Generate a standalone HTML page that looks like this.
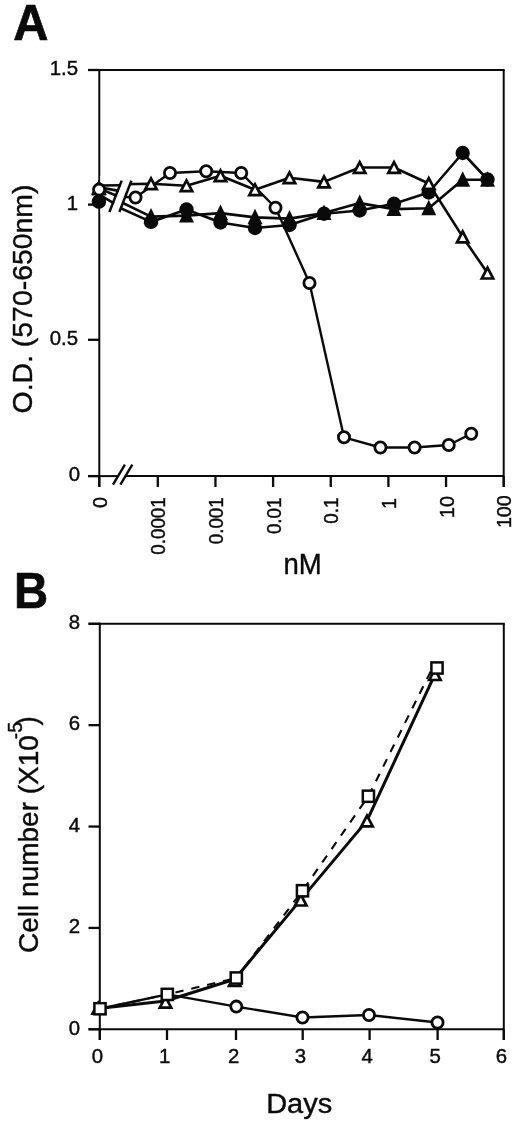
<!DOCTYPE html>
<html lang="en">
<head>
<meta charset="utf-8">
<title>Figure</title>
<style>
html,body{margin:0;padding:0;background:#fff;}
body{width:520px;height:1125px;overflow:hidden;}
svg{display:block;}
svg text{font-family:"Liberation Sans", Arial, Helvetica, sans-serif;fill:#0a0a0a;}
</style>
</head>
<body>
<svg width="520" height="1125" viewBox="0 0 520 1125">
<rect width="520" height="1125" fill="#fff"/>
<line x1="99.30" y1="69.00" x2="99.30" y2="487.00" stroke="#0a0a0a" stroke-width="2.0"/>
<line x1="88.00" y1="70.00" x2="504.70" y2="70.00" stroke="#0a0a0a" stroke-width="2.0"/>
<line x1="503.70" y1="70.00" x2="503.70" y2="487.00" stroke="#0a0a0a" stroke-width="2.0"/>
<line x1="88.00" y1="476.10" x2="117.50" y2="476.10" stroke="#0a0a0a" stroke-width="2.0"/>
<line x1="125.50" y1="476.10" x2="503.70" y2="476.10" stroke="#0a0a0a" stroke-width="2.0"/>
<line x1="124.90" y1="464.60" x2="113.00" y2="484.60" stroke="#0a0a0a" stroke-width="2.4"/>
<line x1="132.30" y1="464.60" x2="120.40" y2="484.60" stroke="#0a0a0a" stroke-width="2.4"/>
<line x1="88.00" y1="204.60" x2="99.30" y2="204.60" stroke="#0a0a0a" stroke-width="2.3"/>
<line x1="88.00" y1="339.80" x2="99.30" y2="339.80" stroke="#0a0a0a" stroke-width="2.3"/>
<line x1="88.00" y1="70.00" x2="99.30" y2="70.00" stroke="#0a0a0a" stroke-width="2.3"/>
<line x1="88.00" y1="476.10" x2="99.30" y2="476.10" stroke="#0a0a0a" stroke-width="2.3"/>
<line x1="99.30" y1="476.10" x2="99.30" y2="487.00" stroke="#0a0a0a" stroke-width="2.3"/>
<line x1="503.70" y1="476.10" x2="503.70" y2="487.00" stroke="#0a0a0a" stroke-width="2.3"/>
<line x1="157.80" y1="476.10" x2="157.80" y2="487.00" stroke="#0a0a0a" stroke-width="2.3"/>
<line x1="215.45" y1="476.10" x2="215.45" y2="487.00" stroke="#0a0a0a" stroke-width="2.3"/>
<line x1="273.10" y1="476.10" x2="273.10" y2="487.00" stroke="#0a0a0a" stroke-width="2.3"/>
<line x1="330.75" y1="476.10" x2="330.75" y2="487.00" stroke="#0a0a0a" stroke-width="2.3"/>
<line x1="388.40" y1="476.10" x2="388.40" y2="487.00" stroke="#0a0a0a" stroke-width="2.3"/>
<line x1="446.05" y1="476.10" x2="446.05" y2="487.00" stroke="#0a0a0a" stroke-width="2.3"/>
<polyline points="99.20,191.50 151.00,216.60 186.50,215.60 220.50,213.10 255.00,217.35 289.50,218.60 324.00,213.10 359.70,203.10 394.00,209.10 428.75,208.30 462.70,179.80 487.50,179.80" fill="none" stroke="#0a0a0a" stroke-width="2.6" stroke-linejoin="round"/>
<polyline points="99.20,198.50 151.00,221.90 186.50,209.50 220.50,222.50 255.00,228.00 289.50,225.00 324.00,213.75 359.70,210.50 394.00,203.75 428.75,192.50 462.70,153.00 487.50,179.50" fill="none" stroke="#0a0a0a" stroke-width="2.6" stroke-linejoin="round"/>
<polyline points="99.20,184.60 151.00,183.80 186.50,185.70 220.50,175.70 255.00,189.70 289.50,177.70 324.00,181.90 359.70,167.50 394.00,167.50 428.75,183.50 462.70,236.90 487.50,273.10" fill="none" stroke="#0a0a0a" stroke-width="2.6" stroke-linejoin="round"/>
<polyline points="99.20,195.60 135.50,197.50 170.00,173.00 206.20,171.25 241.20,173.00 275.50,207.75 309.50,283.00 344.00,437.30 380.40,447.50 414.60,447.50 448.75,445.00 471.25,433.75" fill="none" stroke="#0a0a0a" stroke-width="2.4" stroke-linejoin="round"/>
<path d="M100.4 176 L133.3 176 L118.8 214 L100.4 214 Z" fill="#fff"/>
<line x1="99.20" y1="185.50" x2="121.00" y2="185.30" stroke="#0a0a0a" stroke-width="2.6"/>
<line x1="99.20" y1="187.20" x2="118.80" y2="190.90" stroke="#0a0a0a" stroke-width="2.6"/>
<line x1="99.20" y1="188.60" x2="116.80" y2="195.80" stroke="#0a0a0a" stroke-width="2.6"/>
<line x1="99.20" y1="194.60" x2="114.00" y2="203.40" stroke="#0a0a0a" stroke-width="2.6"/>
<line x1="121.70" y1="180.60" x2="109.40" y2="212.00" stroke="#0a0a0a" stroke-width="2.5"/>
<line x1="131.40" y1="180.60" x2="119.40" y2="212.00" stroke="#0a0a0a" stroke-width="2.5"/>
<path d="M98.90 180.00 L106.40 195.50 L91.40 195.50 Z" fill="#0a0a0a"/>
<path d="M151.00 208.00 L158.50 223.50 L143.50 223.50 Z" fill="#0a0a0a"/>
<path d="M186.50 207.00 L194.00 222.50 L179.00 222.50 Z" fill="#0a0a0a"/>
<path d="M220.50 204.50 L228.00 220.00 L213.00 220.00 Z" fill="#0a0a0a"/>
<path d="M255.00 208.75 L262.50 224.25 L247.50 224.25 Z" fill="#0a0a0a"/>
<path d="M289.50 210.00 L297.00 225.50 L282.00 225.50 Z" fill="#0a0a0a"/>
<path d="M324.00 204.50 L331.50 220.00 L316.50 220.00 Z" fill="#0a0a0a"/>
<path d="M359.70 194.50 L367.20 210.00 L352.20 210.00 Z" fill="#0a0a0a"/>
<path d="M394.00 200.50 L401.50 216.00 L386.50 216.00 Z" fill="#0a0a0a"/>
<path d="M428.75 199.70 L436.25 215.20 L421.25 215.20 Z" fill="#0a0a0a"/>
<path d="M462.70 171.20 L470.20 186.70 L455.20 186.70 Z" fill="#0a0a0a"/>
<path d="M487.50 171.20 L495.00 186.70 L480.00 186.70 Z" fill="#0a0a0a"/>
<circle cx="98.90" cy="201.70" r="7.2" fill="#0a0a0a"/>
<circle cx="151.00" cy="221.90" r="7.2" fill="#0a0a0a"/>
<circle cx="186.50" cy="209.50" r="7.2" fill="#0a0a0a"/>
<circle cx="220.50" cy="222.50" r="7.2" fill="#0a0a0a"/>
<circle cx="255.00" cy="228.00" r="7.2" fill="#0a0a0a"/>
<circle cx="289.50" cy="225.00" r="7.2" fill="#0a0a0a"/>
<circle cx="324.00" cy="213.75" r="7.2" fill="#0a0a0a"/>
<circle cx="359.70" cy="210.50" r="7.2" fill="#0a0a0a"/>
<circle cx="394.00" cy="203.75" r="7.2" fill="#0a0a0a"/>
<circle cx="428.75" cy="192.50" r="7.2" fill="#0a0a0a"/>
<circle cx="462.70" cy="153.00" r="7.2" fill="#0a0a0a"/>
<circle cx="487.50" cy="179.50" r="7.2" fill="#0a0a0a"/>
<path d="M98.90 182.60 L104.60 193.40 L93.20 193.40 Z" fill="#fff" stroke="#0a0a0a" stroke-width="2.7" stroke-linejoin="miter" stroke-miterlimit="10"/>
<path d="M151.00 178.40 L156.70 189.20 L145.30 189.20 Z" fill="#fff" stroke="#0a0a0a" stroke-width="2.7" stroke-linejoin="miter" stroke-miterlimit="10"/>
<path d="M186.50 180.30 L192.20 191.10 L180.80 191.10 Z" fill="#fff" stroke="#0a0a0a" stroke-width="2.7" stroke-linejoin="miter" stroke-miterlimit="10"/>
<path d="M220.50 170.30 L226.20 181.10 L214.80 181.10 Z" fill="#fff" stroke="#0a0a0a" stroke-width="2.7" stroke-linejoin="miter" stroke-miterlimit="10"/>
<path d="M255.00 184.30 L260.70 195.10 L249.30 195.10 Z" fill="#fff" stroke="#0a0a0a" stroke-width="2.7" stroke-linejoin="miter" stroke-miterlimit="10"/>
<path d="M289.50 172.30 L295.20 183.10 L283.80 183.10 Z" fill="#fff" stroke="#0a0a0a" stroke-width="2.7" stroke-linejoin="miter" stroke-miterlimit="10"/>
<path d="M324.00 176.50 L329.70 187.30 L318.30 187.30 Z" fill="#fff" stroke="#0a0a0a" stroke-width="2.7" stroke-linejoin="miter" stroke-miterlimit="10"/>
<path d="M359.70 162.10 L365.40 172.90 L354.00 172.90 Z" fill="#fff" stroke="#0a0a0a" stroke-width="2.7" stroke-linejoin="miter" stroke-miterlimit="10"/>
<path d="M394.00 162.10 L399.70 172.90 L388.30 172.90 Z" fill="#fff" stroke="#0a0a0a" stroke-width="2.7" stroke-linejoin="miter" stroke-miterlimit="10"/>
<path d="M428.75 178.10 L434.45 188.90 L423.05 188.90 Z" fill="#fff" stroke="#0a0a0a" stroke-width="2.7" stroke-linejoin="miter" stroke-miterlimit="10"/>
<path d="M462.70 231.50 L468.40 242.30 L457.00 242.30 Z" fill="#fff" stroke="#0a0a0a" stroke-width="2.7" stroke-linejoin="miter" stroke-miterlimit="10"/>
<path d="M487.50 267.70 L493.20 278.50 L481.80 278.50 Z" fill="#fff" stroke="#0a0a0a" stroke-width="2.7" stroke-linejoin="miter" stroke-miterlimit="10"/>
<circle cx="99.10" cy="189.60" r="5.6" fill="#fff" stroke="#0a0a0a" stroke-width="2.8"/>
<circle cx="135.50" cy="197.50" r="5.6" fill="#fff" stroke="#0a0a0a" stroke-width="2.8"/>
<circle cx="170.00" cy="173.00" r="5.6" fill="#fff" stroke="#0a0a0a" stroke-width="2.8"/>
<circle cx="206.20" cy="171.25" r="5.6" fill="#fff" stroke="#0a0a0a" stroke-width="2.8"/>
<circle cx="241.20" cy="173.00" r="5.6" fill="#fff" stroke="#0a0a0a" stroke-width="2.8"/>
<circle cx="275.50" cy="207.75" r="5.6" fill="#fff" stroke="#0a0a0a" stroke-width="2.8"/>
<circle cx="309.50" cy="283.00" r="5.6" fill="#fff" stroke="#0a0a0a" stroke-width="2.8"/>
<circle cx="344.00" cy="437.30" r="5.6" fill="#fff" stroke="#0a0a0a" stroke-width="2.8"/>
<circle cx="380.40" cy="447.50" r="5.6" fill="#fff" stroke="#0a0a0a" stroke-width="2.8"/>
<circle cx="414.60" cy="447.50" r="5.6" fill="#fff" stroke="#0a0a0a" stroke-width="2.8"/>
<circle cx="448.75" cy="445.00" r="5.6" fill="#fff" stroke="#0a0a0a" stroke-width="2.8"/>
<circle cx="471.25" cy="433.75" r="5.6" fill="#fff" stroke="#0a0a0a" stroke-width="2.8"/>
<text transform="translate(78.00 75.00) scale(1.04 1.0)" font-size="19.6" text-anchor="end" stroke="#0a0a0a" stroke-width="0.4">1.5</text>
<text transform="translate(78.00 209.60) scale(1.04 1.0)" font-size="19.6" text-anchor="end" stroke="#0a0a0a" stroke-width="0.4">1</text>
<text transform="translate(78.00 344.80) scale(1.04 1.0)" font-size="19.6" text-anchor="end" stroke="#0a0a0a" stroke-width="0.4">0.5</text>
<text transform="translate(80.00 481.10) scale(1.04 1.0)" font-size="19.6" text-anchor="end" stroke="#0a0a0a" stroke-width="0.4">0</text>
<text transform="translate(106.90 497.20) scale(1.03 1.0) rotate(-90)" font-size="19.6" text-anchor="end" stroke="#0a0a0a" stroke-width="0.4">0</text>
<text transform="translate(165.40 497.20) scale(1.03 0.96) rotate(-90)" font-size="19.6" text-anchor="end" stroke="#0a0a0a" stroke-width="0.4">0.0001</text>
<text transform="translate(223.05 497.20) scale(1.03 0.96) rotate(-90)" font-size="19.6" text-anchor="end" stroke="#0a0a0a" stroke-width="0.4">0.001</text>
<text transform="translate(280.70 497.50) scale(1.03 0.96) rotate(-90)" font-size="19.6" text-anchor="end" stroke="#0a0a0a" stroke-width="0.4">0.01</text>
<text transform="translate(338.35 497.50) scale(1.03 0.96) rotate(-90)" font-size="19.6" text-anchor="end" stroke="#0a0a0a" stroke-width="0.4">0.1</text>
<text transform="translate(396.00 498.00) scale(1.03 1.0) rotate(-90)" font-size="19.6" text-anchor="end" stroke="#0a0a0a" stroke-width="0.4">1</text>
<text transform="translate(453.65 496.20) scale(1.03 1.0) rotate(-90)" font-size="19.6" text-anchor="end" stroke="#0a0a0a" stroke-width="0.4">10</text>
<text transform="translate(511.30 495.40) scale(1.03 1.0) rotate(-90)" font-size="19.6" text-anchor="end" stroke="#0a0a0a" stroke-width="0.4">100</text>
<text transform="translate(302.50 574.20) scale(0.95 1.0)" font-size="29" text-anchor="middle" stroke="#0a0a0a" stroke-width="0.4">nM</text>
<text transform="translate(31.80 299.00) scale(0.97 1.0) rotate(-90)" font-size="28.4" text-anchor="middle" stroke="#0a0a0a" stroke-width="0.4">O.D. (570-650nm)</text>
<text transform="translate(13.30 40.20) scale(0.985 1.0)" font-size="49.4" text-anchor="start" font-weight="bold" stroke="#0a0a0a" stroke-width="0.7">A</text>
<line x1="99.80" y1="622.80" x2="99.80" y2="1040.00" stroke="#0a0a0a" stroke-width="2.0"/>
<line x1="88.50" y1="623.80" x2="504.80" y2="623.80" stroke="#0a0a0a" stroke-width="2.0"/>
<line x1="503.80" y1="623.80" x2="503.80" y2="1040.00" stroke="#0a0a0a" stroke-width="2.0"/>
<line x1="88.50" y1="1029.30" x2="503.80" y2="1029.30" stroke="#0a0a0a" stroke-width="2.0"/>
<line x1="88.50" y1="927.92" x2="99.80" y2="927.92" stroke="#0a0a0a" stroke-width="2.3"/>
<line x1="88.50" y1="826.55" x2="99.80" y2="826.55" stroke="#0a0a0a" stroke-width="2.3"/>
<line x1="88.50" y1="725.17" x2="99.80" y2="725.17" stroke="#0a0a0a" stroke-width="2.3"/>
<line x1="167.00" y1="1029.30" x2="167.00" y2="1040.00" stroke="#0a0a0a" stroke-width="2.3"/>
<line x1="236.00" y1="1029.30" x2="236.00" y2="1040.00" stroke="#0a0a0a" stroke-width="2.3"/>
<line x1="302.70" y1="1029.30" x2="302.70" y2="1040.00" stroke="#0a0a0a" stroke-width="2.3"/>
<line x1="369.60" y1="1029.30" x2="369.60" y2="1040.00" stroke="#0a0a0a" stroke-width="2.3"/>
<line x1="437.60" y1="1029.30" x2="437.60" y2="1040.00" stroke="#0a0a0a" stroke-width="2.3"/>
<line x1="88.50" y1="623.80" x2="99.80" y2="623.80" stroke="#0a0a0a" stroke-width="2.3"/>
<line x1="88.50" y1="1029.30" x2="99.80" y2="1029.30" stroke="#0a0a0a" stroke-width="2.3"/>
<line x1="99.80" y1="1029.30" x2="99.80" y2="1040.00" stroke="#0a0a0a" stroke-width="2.3"/>
<line x1="503.80" y1="1029.30" x2="503.80" y2="1040.00" stroke="#0a0a0a" stroke-width="2.3"/>
<polyline points="100.00,1008.75 167.30,994.40 236.30,1006.60 302.50,1017.50 369.00,1015.00 437.50,1022.50" fill="none" stroke="#0a0a0a" stroke-width="2.4" stroke-linejoin="round"/>
<polyline points="98.20,1008.60 165.50,1001.00 234.70,979.20 300.80,899.60 367.00,820.60 434.90,674.40" fill="none" stroke="#0a0a0a" stroke-width="3.0" stroke-linejoin="round"/>
<line x1="100.00" y1="1008.75" x2="167.30" y2="994.40" stroke="#0a0a0a" stroke-width="2.1" stroke-dasharray="8.4 7.9" stroke-dashoffset="0"/>
<line x1="167.30" y1="994.40" x2="236.30" y2="978.00" stroke="#0a0a0a" stroke-width="2.1" stroke-dasharray="8.4 7.9" stroke-dashoffset="8.0"/>
<line x1="236.30" y1="978.00" x2="302.50" y2="890.75" stroke="#0a0a0a" stroke-width="2.1" stroke-dasharray="8.4 7.9" stroke-dashoffset="3.0"/>
<line x1="302.50" y1="890.75" x2="368.40" y2="796.25" stroke="#0a0a0a" stroke-width="2.1" stroke-dasharray="8.4 7.9" stroke-dashoffset="14.4"/>
<line x1="368.40" y1="796.25" x2="432.40" y2="668.00" stroke="#0a0a0a" stroke-width="2.1" stroke-dasharray="8.4 7.9" stroke-dashoffset="15.8"/>
<circle cx="236.30" cy="1006.60" r="5.6" fill="#fff" stroke="#0a0a0a" stroke-width="2.8"/>
<circle cx="302.50" cy="1017.50" r="5.6" fill="#fff" stroke="#0a0a0a" stroke-width="2.8"/>
<circle cx="369.00" cy="1015.00" r="5.6" fill="#fff" stroke="#0a0a0a" stroke-width="2.8"/>
<circle cx="437.50" cy="1022.50" r="5.6" fill="#fff" stroke="#0a0a0a" stroke-width="2.8"/>
<path d="M98.20 1002.90 L103.90 1013.70 L92.50 1013.70 Z" fill="#fff" stroke="#0a0a0a" stroke-width="2.7" stroke-linejoin="miter" stroke-miterlimit="10"/>
<path d="M165.50 996.90 L171.20 1007.70 L159.80 1007.70 Z" fill="#fff" stroke="#0a0a0a" stroke-width="2.7" stroke-linejoin="miter" stroke-miterlimit="10"/>
<path d="M234.70 975.20 L240.40 986.00 L229.00 986.00 Z" fill="#fff" stroke="#0a0a0a" stroke-width="2.7" stroke-linejoin="miter" stroke-miterlimit="10"/>
<path d="M300.80 894.70 L306.50 905.50 L295.10 905.50 Z" fill="#fff" stroke="#0a0a0a" stroke-width="2.7" stroke-linejoin="miter" stroke-miterlimit="10"/>
<path d="M367.00 815.60 L372.70 826.40 L361.30 826.40 Z" fill="#fff" stroke="#0a0a0a" stroke-width="2.7" stroke-linejoin="miter" stroke-miterlimit="10"/>
<path d="M434.90 669.20 L440.60 680.00 L429.20 680.00 Z" fill="#fff" stroke="#0a0a0a" stroke-width="2.7" stroke-linejoin="miter" stroke-miterlimit="10"/>
<rect x="94.40" y="1003.15" width="11.2" height="11.2" fill="#fff" stroke="#0a0a0a" stroke-width="2.5"/>
<rect x="161.70" y="988.80" width="11.2" height="11.2" fill="#fff" stroke="#0a0a0a" stroke-width="2.5"/>
<rect x="230.70" y="972.40" width="11.2" height="11.2" fill="#fff" stroke="#0a0a0a" stroke-width="2.5"/>
<rect x="296.90" y="885.15" width="11.2" height="11.2" fill="#fff" stroke="#0a0a0a" stroke-width="2.5"/>
<rect x="362.80" y="790.65" width="11.2" height="11.2" fill="#fff" stroke="#0a0a0a" stroke-width="2.5"/>
<rect x="431.40" y="662.40" width="11.2" height="11.2" fill="#fff" stroke="#0a0a0a" stroke-width="2.5"/>
<text transform="translate(80.00 1034.50) scale(1.04 1.0)" font-size="19.6" text-anchor="end" stroke="#0a0a0a" stroke-width="0.4">0</text>
<text transform="translate(80.00 933.12) scale(1.04 1.0)" font-size="19.6" text-anchor="end" stroke="#0a0a0a" stroke-width="0.4">2</text>
<text transform="translate(80.00 831.75) scale(1.04 1.0)" font-size="19.6" text-anchor="end" stroke="#0a0a0a" stroke-width="0.4">4</text>
<text transform="translate(80.00 730.38) scale(1.04 1.0)" font-size="19.6" text-anchor="end" stroke="#0a0a0a" stroke-width="0.4">6</text>
<text transform="translate(80.00 629.00) scale(1.04 1.0)" font-size="19.6" text-anchor="end" stroke="#0a0a0a" stroke-width="0.4">8</text>
<text transform="translate(97.40 1062.60) scale(1.04 1.0)" font-size="19.6" text-anchor="middle" stroke="#0a0a0a" stroke-width="0.4">0</text>
<text transform="translate(164.60 1062.60) scale(1.04 1.0)" font-size="19.6" text-anchor="middle" stroke="#0a0a0a" stroke-width="0.4">1</text>
<text transform="translate(233.60 1062.60) scale(1.04 1.0)" font-size="19.6" text-anchor="middle" stroke="#0a0a0a" stroke-width="0.4">2</text>
<text transform="translate(300.30 1062.60) scale(1.04 1.0)" font-size="19.6" text-anchor="middle" stroke="#0a0a0a" stroke-width="0.4">3</text>
<text transform="translate(367.20 1062.60) scale(1.04 1.0)" font-size="19.6" text-anchor="middle" stroke="#0a0a0a" stroke-width="0.4">4</text>
<text transform="translate(435.20 1062.60) scale(1.04 1.0)" font-size="19.6" text-anchor="middle" stroke="#0a0a0a" stroke-width="0.4">5</text>
<text transform="translate(501.40 1062.60) scale(1.04 1.0)" font-size="19.6" text-anchor="middle" stroke="#0a0a0a" stroke-width="0.4">6</text>
<text transform="translate(299.20 1113.20) scale(1.055 1.0)" font-size="27.5" text-anchor="middle" stroke="#0a0a0a" stroke-width="0.4">Days</text>
<text transform="translate(14.00 608.40) scale(0.95 1.0)" font-size="49.8" text-anchor="start" font-weight="bold" stroke="#0a0a0a" stroke-width="0.7">B</text>
<text transform="translate(37.50 952.90) scale(1.02 1.0) rotate(-90)" font-size="28" text-anchor="start" stroke="#0a0a0a" stroke-width="0.4">Cell number (X10</text>
<text transform="translate(21.80 739.20) scale(1.04 1.0) rotate(-90)" font-size="19.5" text-anchor="start" stroke="#0a0a0a" stroke-width="0.4">-5</text>
<text transform="translate(36.60 725.60) scale(1.04 1.0) rotate(-90)" font-size="28" text-anchor="start" stroke="#0a0a0a" stroke-width="0.4">)</text>
</svg>
</body>
</html>
